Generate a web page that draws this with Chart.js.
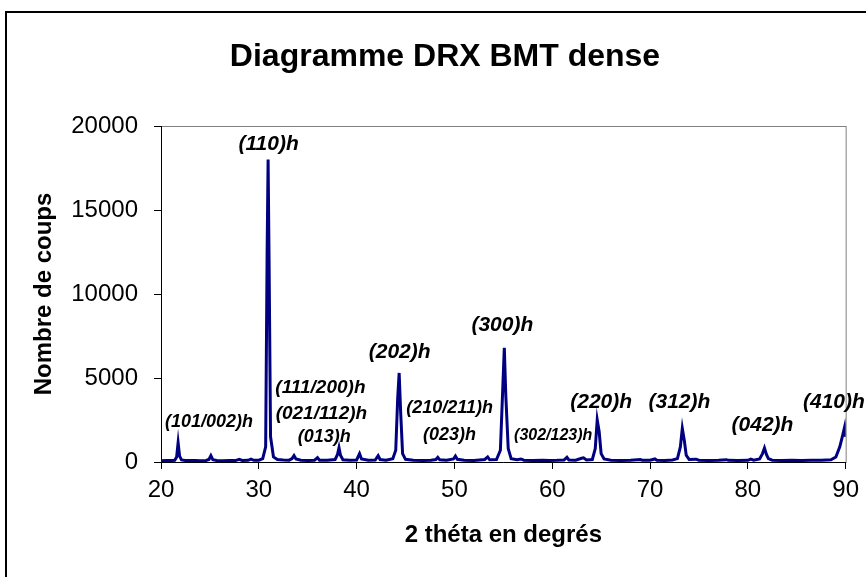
<!DOCTYPE html>
<html lang="fr">
<head>
<meta charset="UTF-8">
<title>Diagramme DRX BMT dense</title>
<script src="https://cdn.jsdelivr.net/npm/chart.js"></script>
<style>
  body { margin: 0; background: #fff; }
</style>
</head>
<body>
<canvas id="drx" width="866" height="577"></canvas>
<script>
// 2 theta (degrees) and counts
var twoTheta = [
  20.0, 20.5, 21.0, 21.4, 21.6, 21.75, 21.9, 22.1, 22.5, 23.0, 23.5, 24.0, 24.6, 24.9, 25.1, 25.3, 25.7,
  26.3, 27.0, 27.6, 28.0, 28.3, 28.9, 29.2, 29.5, 30.0, 30.4, 30.7, 30.85, 30.95, 31.05, 31.2, 31.5, 31.9,
  32.5, 33.1, 33.4, 33.6, 33.8, 34.3, 35.0, 35.7, 36.0, 36.2, 37.0, 37.8, 38.05, 38.2, 38.35, 38.6,
  39.3, 40.0, 40.3, 40.5, 41.2, 41.9, 42.2, 42.4, 43.0, 43.7, 44.0, 44.2, 44.35, 44.5, 44.7, 45.0,
  45.8, 46.8, 47.6, 48.1, 48.3, 48.5, 49.2, 49.9, 50.1, 50.3, 51.0, 52.0, 53.1, 53.4, 53.6, 54.3,
  54.7, 54.95, 55.1, 55.25, 55.5, 55.8, 56.4, 56.8, 57.1, 58.0, 59.0, 59.8, 60.5, 61.2, 61.5, 61.7,
  62.4, 63.0, 63.2, 63.5, 64.1, 64.4, 64.6, 64.8, 65.0, 65.3, 66.0, 67.0, 68.0, 69.0, 69.2, 70.0,
  70.5, 70.7, 71.5, 72.3, 72.8, 73.1, 73.3, 73.5, 73.7, 74.0, 74.7, 75.0, 76.0, 77.0, 77.8, 78.0,
  79.0, 80.0, 80.3, 80.6, 81.2, 81.5, 81.7, 81.9, 82.1, 82.5, 83.5, 84.5, 85.5, 86.5, 87.5, 88.5,
  89.0, 89.4, 89.7, 89.9, 90.0
];
var counts = [
  80, 90, 85, 100, 300, 1150, 350, 120, 90, 85, 95, 80, 90, 150, 380, 140, 90,
  80, 95, 85, 160, 90, 100, 170, 100, 110, 200, 900, 12500, 18000, 12000, 1500, 300, 150,
  120, 110, 200, 380, 180, 100, 95, 110, 260, 110, 100, 150, 450, 850, 400, 130,
  100, 120, 500, 180, 100, 120, 380, 150, 110, 200, 700, 3800, 5300, 3000, 500, 160,
  100, 90, 110, 150, 280, 130, 100, 180, 350, 160, 100, 90, 150, 300, 130, 150,
  700, 4500, 6800, 4000, 800, 200, 130, 180, 110, 90, 100, 90, 100, 120, 280, 120,
  110, 220, 250, 120, 150, 800, 2500, 1800, 500, 180, 100, 90, 110, 150, 110, 100,
  180, 100, 90, 120, 200, 900, 2000, 1300, 400, 150, 170, 110, 90, 100, 140, 100,
  90, 100, 170, 110, 180, 500, 830, 450, 200, 110, 90, 100, 90, 100, 110, 130,
  300, 900, 1600, 2100, 1500
];

// peak indexation labels, placed in data coordinates
var peakLabels = ['(110)h', '(101/002)h', '(111/200)h', '(021/112)h', '(013)h', '(202)h', '(210/211)h',
  '(023)h', '(300)h', '(302/123)h', '(220)h', '(312)h', '(042)h', '(410)h'];
var labelTheta = [31.0, 24.9, 36.3, 36.4, 36.7, 44.4, 49.5, 49.5, 54.9, 60.1, 65.0, 73.0, 81.5, 88.8];
var labelCounts = [18900, 2400, 4400, 2850, 1500, 6550, 3200, 1600, 8150, 1600, 3550, 3550, 2200, 3550];
var labelFontSize = [21, 18, 19, 19, 18, 21, 18, 18, 21, 16, 21, 21, 21, 21];

var xTicks = [20, 30, 40, 50, 60, 70, 80, 90];
var yTicks = [0, 5000, 10000, 15000, 20000];

var chartTitle = 'Diagramme DRX BMT dense';
var FONT = "'Liberation Sans', Arial, sans-serif";

var points = twoTheta.map(function (t, i) { return { x: t, y: counts[i] }; });

// frame around whole chart, grey plot area border, and the title (Excel puts it off-centre)
var framePlugin = {
  id: 'frame',
  beforeDraw: function (chart) {
    var ctx = chart.ctx, a = chart.chartArea;
    ctx.save();
    ctx.fillStyle = '#fff';
    ctx.fillRect(0, 0, chart.width, chart.height);
    ctx.strokeStyle = '#000';
    ctx.lineWidth = 2;
    ctx.strokeRect(6, 12, chart.width + 20, chart.height + 20);
    ctx.strokeStyle = '#808080';
    ctx.lineWidth = 1;
    ctx.strokeRect(a.left + 0.5, a.top + 0.5, a.right - a.left, a.bottom - a.top);
    ctx.fillStyle = '#000';
    ctx.font = 'bold 32px ' + FONT;
    ctx.textAlign = 'center';
    ctx.textBaseline = 'middle';
    ctx.fillText(chartTitle, 445, 57);
    ctx.restore();
  }
};

var peakLabelPlugin = {
  id: 'peakLabels',
  afterDatasetsDraw: function (chart) {
    var ctx = chart.ctx, xs = chart.scales.x, ys = chart.scales.y;
    ctx.save();
    ctx.fillStyle = '#000';
    ctx.textAlign = 'center';
    ctx.textBaseline = 'middle';
    peakLabels.forEach(function (txt, i) {
      ctx.font = 'italic bold ' + labelFontSize[i] + 'px ' + FONT;
      ctx.fillText(txt, xs.getPixelForValue(labelTheta[i]), ys.getPixelForValue(labelCounts[i]));
    });
    ctx.restore();
  }
};

new Chart(document.getElementById('drx'), {
  type: 'scatter',
  data: {
    datasets: [{
      label: 'BMT dense',
      data: points,
      showLine: true,
      borderColor: '#000080',
      borderWidth: 3,
      pointRadius: 0,
      tension: 0,
      fill: false
    }]
  },
  options: {
    responsive: false,
    animation: false,
    layout: { padding: { left: 0, right: 19, top: 126, bottom: 0 } },
    plugins: {
      legend: { display: false },
      tooltip: { enabled: false },
      title: { display: false }
    },
    scales: {
      x: {
        type: 'linear',
        min: 20,
        max: 90,
        afterFit: function (s) { s.height = 115; },
        afterBuildTicks: function (s) { s.ticks = xTicks.map(function (v) { return { value: v }; }); },
        ticks: {
          color: '#000', font: { family: FONT, size: 24 }, padding: 7, maxRotation: 0,
          callback: function (v) { return String(v); }
        },
        grid: { drawOnChartArea: false, drawTicks: true, tickLength: 7, color: '#000' },
        border: { display: true, color: '#000', width: 1 },
        title: {
          display: true,
          text: '2 théta en degrés',
          color: '#000',
          font: { family: FONT, size: 24, weight: 'bold' },
          padding: { top: 0, bottom: 27 }
        }
      },
      y: {
        min: 0,
        max: 20000,
        afterFit: function (s) { s.width = 161; },
        afterBuildTicks: function (s) { s.ticks = yTicks.map(function (v) { return { value: v }; }); },
        ticks: {
          color: '#000', font: { family: FONT, size: 24 }, padding: 16,
          callback: function (v) { return String(v); }
        },
        grid: { drawOnChartArea: false, drawTicks: true, tickLength: 7, color: '#000' },
        border: { display: true, color: '#000', width: 1 },
        title: {
          display: true,
          text: 'Nombre de coups',
          color: '#000',
          font: { family: FONT, size: 24, weight: 'bold' },
          padding: { top: 30, bottom: 0 }
        }
      }
    }
  },
  plugins: [framePlugin, peakLabelPlugin]
});
</script>
</body>
</html>
